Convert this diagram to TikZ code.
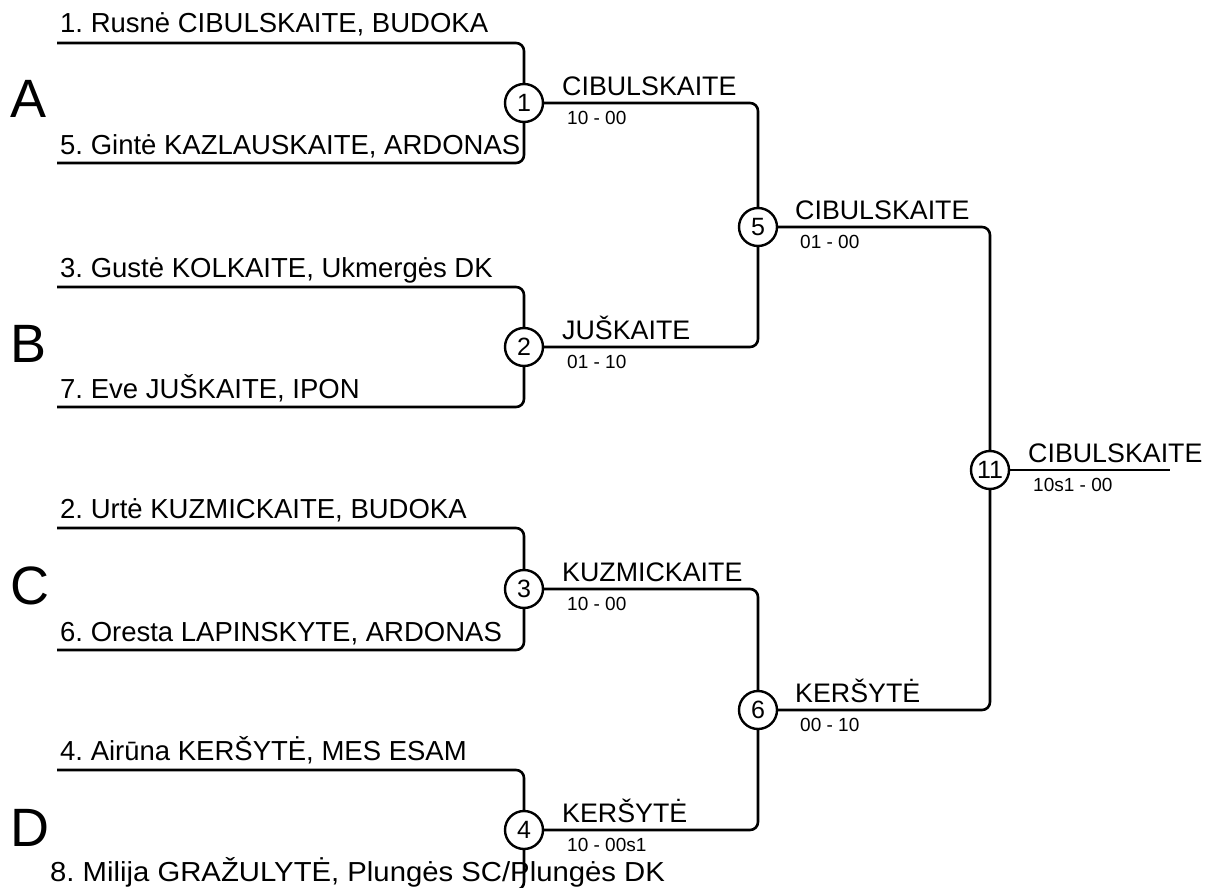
\documentclass[tikz,border=0pt]{standalone}
\usepackage{fontspec}
\setmainfont{Liberation Sans}
\begin{document}
\frenchspacing
\begin{tikzpicture}[x=1pt,y=-1pt,
  wire/.style={line width=2.6pt,rounded corners=8pt},
  match/.style={circle,draw,line width=2.4pt,fill=white,minimum size=38pt,inner sep=0pt,font=\fontsize{25}{27}\selectfont},
  entry/.style={anchor=base west,inner sep=0pt,font=\fontsize{27.5}{30}\selectfont},
  winner/.style={anchor=base west,inner sep=0pt,font=\fontsize{26.8}{29}\selectfont},
  score/.style={anchor=base west,inner sep=0pt,font=\fontsize{19}{21}\selectfont},
  pool/.style={anchor=base west,inner sep=0pt,font=\fontsize{54}{58}\selectfont}]
\useasboundingbox (0,0) rectangle (1205,888);
\clip (0,0) rectangle (1205,888);
% match circles
\node[match] (m1) at (524,103) {1};
\node[match] (m2) at (524,347) {2};
\node[match] (m3) at (524,589) {3};
\node[match] (m4) at (524,830) {4};
\node[match] (m5) at (758,227) {5};
\node[match] (m6) at (758,710) {6};
\node[match] (m11) at (990,470) {11};
% entry start points
\coordinate (e1) at (57,43);
\coordinate (e5) at (57,163);
\coordinate (e3) at (57,287);
\coordinate (e7) at (57,407);
\coordinate (e2) at (57,528);
\coordinate (e6) at (57,650);
\coordinate (e4) at (57,770);
\coordinate (e8) at (57,890);
\coordinate (fin) at (1170,470);
% connectors
\draw[wire] (e1) -| (m1);
\draw[wire] (e5) -| (m1);
\draw[wire] (e3) -| (m2);
\draw[wire] (e7) -| (m2);
\draw[wire] (e2) -| (m3);
\draw[wire] (e6) -| (m3);
\draw[wire] (e4) -| (m4);
\draw[wire] (e8) -| (m4);
\draw[wire] (m1) -| (m5);
\draw[wire] (m2) -| (m5);
\draw[wire] (m3) -| (m6);
\draw[wire] (m4) -| (m6);
\draw[wire] (m5) -| (m11);
\draw[wire] (m6) -| (m11);
\draw[wire] (m11) -- (fin);
% pool letters
\node[pool] (pA) at (10,118) {A};
\node[pool] (pB) at (10,362) {B};
\node[pool] (pC) at (10,604) {C};
\node[pool] (pD) at (10,846) {D};
% entries
\node[entry] (t1) at (60,33) {1. Rusnė CIBULSKAITE, BUDOKA};
\node[entry] (t5) at (60,155) {5. Gintė KAZLAUSKAITE, ARDONAS};
\node[entry] (t3) at (60,277) {3. Gustė KOLKAITE, Ukmergės DK};
\node[entry] (t7) at (60,398) {7. Eve JUŠKAITE, IPON};
\node[entry] (t2) at (60,518) {2. Urtė KUZMICKAITE, BUDOKA};
\node[entry] (t6) at (60,641) {6. Oresta LAPINSKYTE, ARDONAS};
\node[entry] (t4) at (60,760) {4. Airūna KERŠYTĖ, MES ESAM};
\node[entry] (t8) at (50,881) {\scalebox{1.065}[1]{8. Milija GRAŽULYTĖ, Plungės SC/Plungės DK}};
% winners and scores
\node[winner] (w1) at (562,96) {CIBULSKAITE};
\node[score] (s1) at (567,125) {10 - 00};
\node[winner] (w2) at (562,339) {JUŠKAITE};
\node[score] (s2) at (567,368) {01 - 10};
\node[winner] (w3) at (562,581) {KUZMICKAITE};
\node[score] (s3) at (567,610) {10 - 00};
\node[winner] (w4) at (562,822) {KERŠYTĖ};
\node[score] (s4) at (567,851) {10 - 00s1};
\node[winner] (w5) at (795,219) {CIBULSKAITE};
\node[score] (s5) at (800,248) {01 - 00};
\node[winner] (w6) at (795,702) {KERŠYTĖ};
\node[score] (s6) at (800,731) {00 - 10};
\node[winner] (w11) at (1028,462) {CIBULSKAITE};
\node[score] (s11) at (1033,491) {10s1 - 00};
\end{tikzpicture}
\end{document}
